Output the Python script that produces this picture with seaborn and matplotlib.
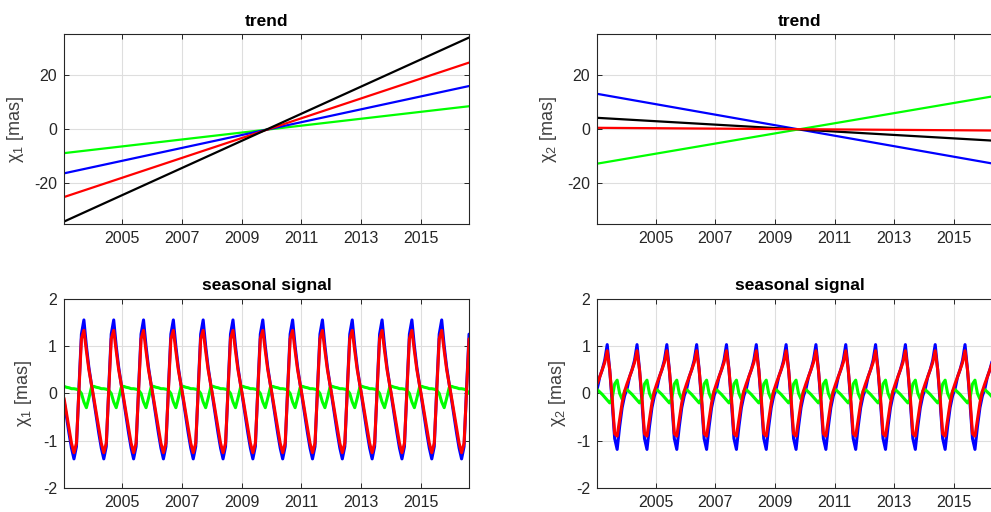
import numpy as np
import pandas as pd
import matplotlib
matplotlib.use("Agg")
import matplotlib.pyplot as plt
import seaborn as sns

# ---------------- data ----------------
# monthly samples (mid-month), Jan 2003 .. Aug 2016
n_months = 164
t_start, t_end = 2003.0417, 2016.625

# trend panels: line end values at t_start and t_end
trend_t = [t_start, t_end]
chi1_trend = {
    "black": [-34.3, 34.0],
    "red":   [-25.2, 24.7],
    "blue":  [-16.4, 16.0],
    "green": [-8.9, 8.5],
}
chi2_trend = {
    "blue":  [13.1, -13.4],
    "black": [4.2, -4.46],
    "green": [-12.8, 12.77],
    "red":   [0.5, -0.53],
}

# seasonal signal: one annual cycle of monthly values (Jan..Dec), repeated each year
chi1_season_cycle = {
    "blue":  [-0.15, -0.50, -0.84, -1.15, -1.38, -1.12, 0.10, 1.25, 1.55, 1.00, 0.55, 0.20],
    "green": [0.15, 0.13, 0.12, 0.10, 0.10, 0.09, 0.07, 0.00, -0.18, -0.30, -0.10, 0.12],
    "red":   [-0.10, -0.42, -0.74, -1.05, -1.25, -1.05, 0.05, 1.15, 1.33, 0.90, 0.50, 0.20],
}
chi2_season_cycle = {
    "blue":  [0.10, 0.35, 0.50, 0.70, 1.03, 0.50, -0.20, -0.95, -1.18, -0.70, -0.30, -0.05],
    "green": [0.08, 0.03, -0.02, -0.08, -0.14, -0.20, -0.10, 0.20, 0.28, 0.00, -0.12, 0.05],
    "red":   [0.21, 0.35, 0.50, 0.65, 0.90, 0.50, -0.10, -0.85, -0.90, -0.55, -0.20, 0.05],
}

xticks = [2005, 2007, 2009, 2011, 2013, 2015]
colors = {"black": "#000000", "red": "#ff0000", "blue": "#0000ff", "green": "#00ff00"}

# ---------------- build tables ----------------
months = np.arange(n_months)
t_month = np.linspace(t_start, t_end, n_months)


def trend_df(d):
    rows = []
    for k, v in d.items():
        for tt, vv in zip(trend_t, v):
            rows.append({"t": tt, "v": vv, "s": k})
    return pd.DataFrame(rows)


def season_df(d):
    rows = []
    for k, cyc in d.items():
        vals = np.array(cyc)[months % 12]
        for tt, vv in zip(t_month, vals):
            rows.append({"t": tt, "v": vv, "s": k})
    return pd.DataFrame(rows)


# ---------------- style ----------------
sns.set_theme(style="white")
plt.rcParams["font.family"] = ["Liberation Sans", "DejaVu Sans"]
plt.rcParams["mathtext.fontset"] = "custom"
plt.rcParams["mathtext.it"] = "Liberation Sans:italic"
plt.rcParams["mathtext.rm"] = "Liberation Sans"
plt.rcParams["axes.unicode_minus"] = False

fig = plt.figure(figsize=(9.91, 5.12), dpi=100)
W, H = 0.4087, 0.3705
pos = {
    (0, 0): [0.0646, 0.5625, W, H],
    (0, 1): [0.6027, 0.5625, W, H],
    (1, 0): [0.0646, 0.0463, W, H],
    (1, 1): [0.6027, 0.0463, W, H],
}

dark = "#262626"


def style_ax(ax, ylim, yticks, ylabel, title):
    ax.set_xlim(t_start, t_end)
    ax.set_ylim(*ylim)
    ax.set_xticks(xticks)
    ax.set_yticks(yticks)
    ax.set_xticklabels([str(x) for x in xticks])
    ax.set_yticklabels([str(y) for y in yticks])
    ax.grid(True, color="#dedede", linewidth=0.8)
    ax.set_axisbelow(True)
    for sp in ax.spines.values():
        sp.set_visible(True)
        sp.set_color(dark)
        sp.set_linewidth(0.8)
    ax.tick_params(direction="in", length=3.5, width=0.7, color=dark,
                   labelsize=11.5, labelcolor=dark, top=True, right=True,
                   bottom=True, left=True, pad=5)
    ax.set_xlabel("")
    ax.set_ylabel(ylabel, fontsize=13, color="#404040", labelpad=6)
    ax.set_title(title, fontsize=12.5, fontweight="bold", color="black", pad=6)
    leg = ax.get_legend()
    if leg is not None:
        leg.remove()


# top-left
ax = fig.add_axes(pos[(0, 0)])
df = trend_df(chi1_trend)
sns.lineplot(data=df, x="t", y="v", hue="s", palette=colors,
             hue_order=["green", "blue", "red", "black"], linewidth=1.6, ax=ax)
style_ax(ax, (-35.2, 35.2), [-20, 0, 20], "χ$_1$ [mas]", "trend")

# top-right
ax = fig.add_axes(pos[(0, 1)])
df = trend_df(chi2_trend)
sns.lineplot(data=df, x="t", y="v", hue="s", palette=colors,
             hue_order=["blue", "black", "green", "red"], linewidth=1.6, ax=ax)
style_ax(ax, (-35.2, 35.2), [-20, 0, 20], "χ$_2$ [mas]", "trend")

# bottom-left
ax = fig.add_axes(pos[(1, 0)])
df = season_df(chi1_season_cycle)
sns.lineplot(data=df, x="t", y="v", hue="s", palette=colors,
             hue_order=["blue", "green", "red"], linewidth=2.2, ax=ax)
style_ax(ax, (-2, 2), [-2, -1, 0, 1, 2], "χ$_1$ [mas]", "seasonal signal")

# bottom-right
ax = fig.add_axes(pos[(1, 1)])
df = season_df(chi2_season_cycle)
sns.lineplot(data=df, x="t", y="v", hue="s", palette=colors,
             hue_order=["blue", "green", "red"], linewidth=2.2, ax=ax)
style_ax(ax, (-2, 2), [-2, -1, 0, 1, 2], "χ$_2$ [mas]", "seasonal signal")

fig.savefig("out.png", dpi=100)
